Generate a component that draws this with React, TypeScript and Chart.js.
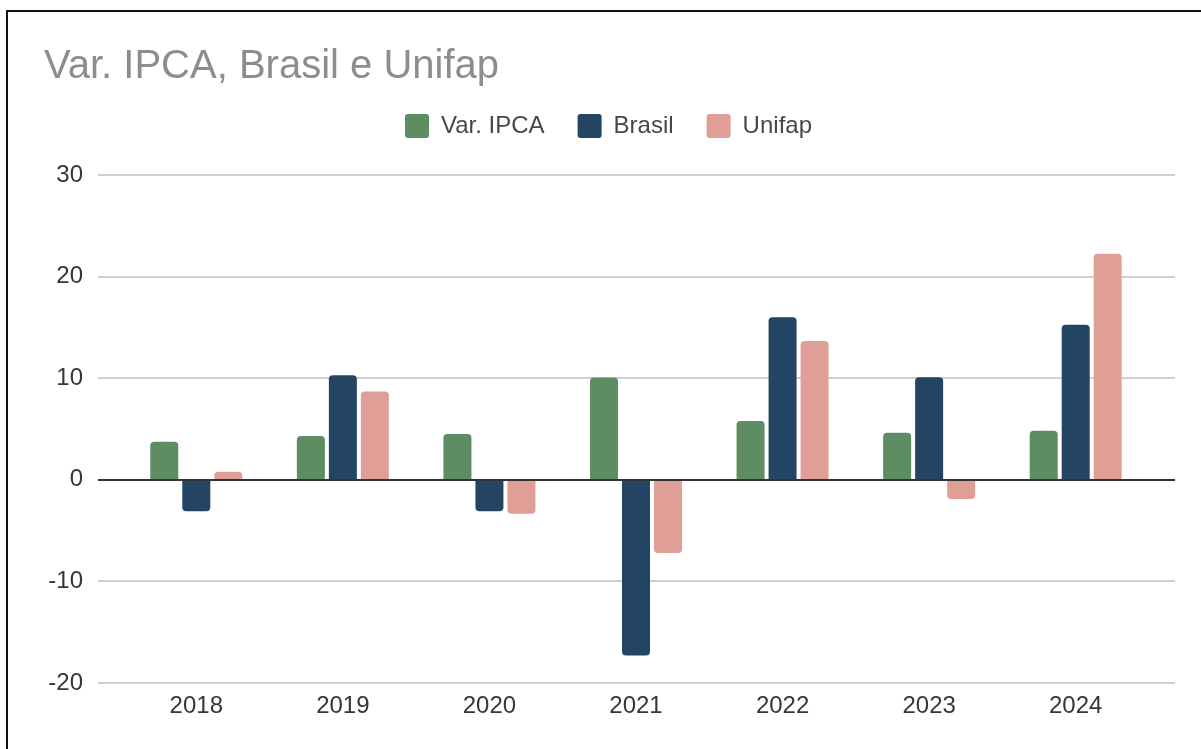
import React, { useEffect, useRef } from 'react';
import { Chart, registerables } from 'chart.js';

Chart.register(...registerables);

const titleText = 'Var. IPCA, Brasil e Unifap';
const categories = ['2018', '2019', '2020', '2021', '2022', '2023', '2024'];
const seriesNames = ['Var. IPCA', 'Brasil', 'Unifap'];
const ipcaValues = [3.75, 4.31, 4.52, 10.06, 5.79, 4.62, 4.83];
const brasilValues = [-3.1, 10.3, -3.1, -17.3, 16.0, 10.1, 15.25];
const unifapValues = [0.8, 8.7, -3.35, -7.2, 13.65, -1.9, 22.25];
const yMin = -20;
const yMax = 30;
const yStep = 10;

const COLORS = ['#5e8c63', '#234563', '#df9f96'];
const FONT = "'Liberation Sans', Arial, sans-serif";

const gridPlugin = {
  id: 'extGrid',
  beforeDatasetsDraw(chart: any) {
    const { ctx, chartArea, scales } = chart;
    const y = scales.y;
    ctx.save();
    ctx.strokeStyle = '#cfcfcf';
    ctx.lineWidth = 2;
    y.ticks.forEach((t: any) => {
      if (t.value === 0) return;
      const py = Math.round(y.getPixelForValue(t.value));
      ctx.beginPath();
      ctx.moveTo(chartArea.left - 25, py);
      ctx.lineTo(chartArea.right + 26, py);
      ctx.stroke();
    });
    ctx.restore();
  },
  afterDatasetsDraw(chart: any) {
    const { ctx, chartArea, scales } = chart;
    const y = scales.y;
    const py = Math.round(y.getPixelForValue(0));
    ctx.save();
    ctx.strokeStyle = '#333333';
    ctx.lineWidth = 2;
    ctx.beginPath();
    ctx.moveTo(chartArea.left - 25, py);
    ctx.lineTo(chartArea.right + 26, py);
    ctx.stroke();
    ctx.restore();
  },
};

export default function App() {
  const ref = useRef<HTMLCanvasElement | null>(null);

  useEffect(() => {
    if (!ref.current) return;
    Chart.defaults.font.family = FONT;
    const values = [ipcaValues, brasilValues, unifapValues];
    const chart = new Chart(ref.current, {
      type: 'bar',
      data: {
        labels: categories,
        datasets: seriesNames.map((name, i) => ({
          label: name,
          data: values[i],
          backgroundColor: COLORS[i],
          borderWidth: 0,
          borderRadius: 4,
          borderSkipped: 'start',
          categoryPercentage: 0.655,
          barPercentage: 0.875,
          xAxisID: 'x',
          yAxisID: 'y',
        })),
      },
      options: {
        responsive: false,
        animation: false,
        devicePixelRatio: 1,
        layout: { padding: { top: 0, left: 36, right: 35, bottom: 0 } },
        plugins: {
          tooltip: { enabled: false },
          title: {
            display: true,
            text: titleText,
            align: 'start',
            color: '#8a8f8a',
            font: { size: 40, weight: 'normal', lineHeight: 1.2, family: FONT },
            padding: { top: 31, bottom: -10 },
          },
          legend: {
            display: true,
            position: 'top',
            align: 'center',
            labels: {
              boxWidth: 24,
              boxHeight: 24,
              padding: 33,
              color: '#444944',
              font: { size: 24, family: FONT },
              useBorderRadius: true,
              borderRadius: 3,
            },
          },
        },
        scales: {
          x: {
            type: 'category',
            position: 'bottom',
            grid: { display: false, drawTicks: false },
            border: { display: false },
            ticks: { padding: 9, color: '#333833', font: { size: 24, family: FONT } },
            afterFit: (s: any) => { s.height = 60; },
          },
          y: {
            type: 'linear',
            position: 'left',
            min: yMin,
            max: yMax,
            grid: { display: false, drawTicks: false },
            border: { display: false },
            ticks: { stepSize: yStep, padding: 40, color: '#333833', font: { size: 24, family: FONT } },
            afterFit: (s: any) => { s.width = 79; },
          },
          xTop: {
            type: 'category',
            axis: 'x',
            position: 'top',
            display: true,
            grid: { display: false, drawTicks: false },
            border: { display: false },
            ticks: { display: false },
            afterFit: (s: any) => { s.height = 27; },
          },
          yRight: {
            type: 'linear',
            axis: 'y',
            position: 'right',
            display: true,
            grid: { display: false, drawTicks: false },
            border: { display: false },
            ticks: { display: false },
            afterFit: (s: any) => { s.width = 24; },
          },
        },
      } as any,
      plugins: [gridPlugin],
    });
    return () => chart.destroy();
  }, []);

  return (
    <div style={{ position: 'fixed', left: 0, top: 0, width: 1201, height: 749, overflow: 'hidden', background: '#fff' }}>
      <div
        style={{
          position: 'absolute',
          left: 6,
          top: 10,
          width: 1200,
          height: 800,
          border: '2px solid #111',
          background: '#fff',
        }}
      >
        <canvas ref={ref} width={1200} height={731} style={{ display: 'block', width: 1200, height: 731 }} />
      </div>
    </div>
  );
}
